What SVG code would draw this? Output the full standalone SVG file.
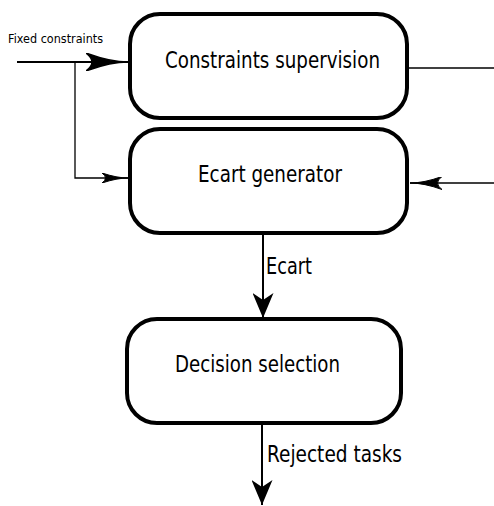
<svg xmlns="http://www.w3.org/2000/svg" width="494" height="506" viewBox="0 0 494 506">
<style>
.box{fill:#fff;stroke:#000;stroke-width:4}
.t{font-family:"DejaVu Sans",sans-serif;font-size:23px;fill:#000}
.small{font-family:"DejaVu Sans",sans-serif;font-size:12px;fill:#000}
.ln{fill:none;stroke:#000;stroke-width:2}
.thin{fill:none;stroke:#000;stroke-width:1.3}
</style>
<defs>
<marker id="big" markerWidth="42" markerHeight="18" refX="42" refY="9" orient="auto" markerUnits="userSpaceOnUse">
<path d="M0,0 Q24,9 42,9 Q24,9 0,18 Q12,9 0,0 Z" fill="#000" stroke="#000" stroke-width="1.5"/>
</marker>
<marker id="small" markerWidth="26" markerHeight="10" refX="26" refY="5" orient="auto" markerUnits="userSpaceOnUse">
<path d="M0,0 Q15,5 26,5 Q15,5 0,10 Q7,5 0,0 Z" fill="#000" stroke="#000" stroke-width="1"/>
</marker>
<marker id="mid" markerWidth="32" markerHeight="13" refX="32" refY="6.5" orient="auto" markerUnits="userSpaceOnUse">
<path d="M0,0 Q18,6.5 32,6.5 Q18,6.5 0,13 Q9,6.5 0,0 Z" fill="#000" stroke="#000" stroke-width="1"/>
</marker>
<marker id="down" markerWidth="25" markerHeight="21" refX="25" refY="10.5" orient="auto" markerUnits="userSpaceOnUse">
<path d="M0,0 L25,10.5 L0,21 L7,10.5 Z" fill="#000"/>
</marker>
</defs>
<g id="connectors">
<path class="ln" d="M17,62 L128,62" marker-end="url(#big)"/>
<path class="thin" d="M75,62 L75,178 L128,178" marker-end="url(#small)"/>
<path class="thin" d="M409,68 L494,68"/>
<path class="thin" d="M494,183 L410,183" marker-end="url(#mid)"/>
<path class="ln" d="M263,234 L263,318" marker-end="url(#down)"/>
<path class="ln" d="M262,424 L262,505" marker-end="url(#down)"/>
</g>
<g id="n1">
<rect class="box" x="130" y="14" width="277" height="104" rx="30" ry="30"/>
<text class="t" x="165" y="68" textLength="215" lengthAdjust="spacingAndGlyphs">Constraints supervision</text>
</g>
<g id="n2">
<rect class="box" x="130" y="129" width="277" height="104" rx="30" ry="30"/>
<text class="t" x="198" y="182" textLength="144" lengthAdjust="spacingAndGlyphs">Ecart generator</text>
</g>
<g id="n3">
<rect class="box" x="127" y="319" width="274" height="104" rx="30" ry="30"/>
<text class="t" x="175" y="372" textLength="165" lengthAdjust="spacingAndGlyphs">Decision selection</text>
</g>
<text class="small" x="8" y="43" textLength="95" lengthAdjust="spacingAndGlyphs">Fixed constraints</text>
<text class="t" x="266" y="274" textLength="46" lengthAdjust="spacingAndGlyphs">Ecart</text>
<text class="t" x="267" y="462" textLength="135" lengthAdjust="spacingAndGlyphs">Rejected tasks</text>
</svg>
